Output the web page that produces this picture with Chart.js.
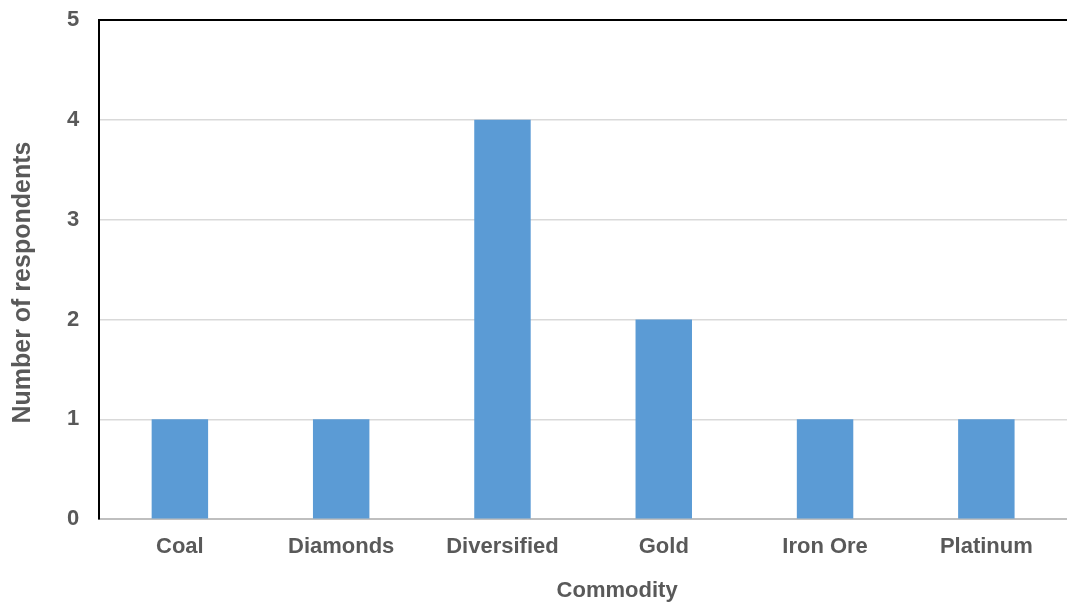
<!DOCTYPE html>
<html>
<head>
<meta charset="utf-8">
<script src="https://cdn.jsdelivr.net/npm/chart.js@4"></script>
<style>
  html, body { margin: 0; padding: 0; background: #fff; }
  #wrap { width: 1067px; height: 607px; }
</style>
</head>
<body>
<div id="wrap"><canvas id="chart"></canvas></div>
<script>
// data
const commodities = ['Coal', 'Diamonds', 'Diversified', 'Gold', 'Iron Ore', 'Platinum'];
const respondents = [1, 1, 4, 2, 1, 1];
const yMin = 0;
const yMax = 5;
const xTitle = 'Commodity';
const yTitle = 'Number of respondents';

const textGrey = '#595959';

// the axis titles in the original sit a bit off centre, so draw them ourselves
// (the built-in titles stay on, transparent, just to reserve the space)
const offsetTitles = {
    id: 'offsetTitles',
    afterDraw(chart) {
        const { ctx, chartArea, scales } = chart;
        const midX = (chartArea.left + chartArea.right) / 2;
        const midY = (chartArea.top + chartArea.bottom) / 2;
        ctx.save();
        ctx.fillStyle = textGrey;
        ctx.textAlign = 'center';
        ctx.textBaseline = 'middle';
        ctx.font = 'bold 22px "Liberation Sans"';
        ctx.fillText(xTitle, midX + 34, scales.x.bottom - 16);
        ctx.translate(scales.y.left + 19, midY + 13);
        ctx.rotate(-Math.PI / 2);
        ctx.font = 'bold 25px "Liberation Sans"';
        ctx.fillText(yTitle, 0, 0);
        ctx.restore();
    }
};

const ctx = document.getElementById('chart').getContext('2d');
const chart = new Chart(ctx, {
    type: 'bar',
    data: {
        labels: commodities,
        datasets: [{
            data: respondents,
            backgroundColor: '#5b9bd5',
            categoryPercentage: 1,
            barPercentage: 0.35
        }]
    },
    plugins: [offsetTitles],
    options: {
        responsive: true,
        maintainAspectRatio: false,
        animation: false,
        layout: { padding: { top: 20, left: 4, right: 0, bottom: 0 } },
        plugins: {
            legend: { display: false },
            tooltip: { enabled: false }
        },
        scales: {
            x: {
                grid: { display: false, drawTicks: false },
                border: { color: '#bfbfbf', width: 2 },
                ticks: {
                    color: textGrey,
                    padding: 15,
                    font: { family: 'Liberation Sans', size: 22, weight: 'bold' }
                },
                title: {
                    display: true,
                    text: xTitle,
                    color: 'rgba(0,0,0,0)',
                    padding: { top: 2, bottom: 3 },
                    font: { family: 'Liberation Sans', size: 22, weight: 'bold' }
                }
            },
            y: {
                min: yMin,
                max: yMax,
                // let the top label hang over the padding instead of pushing the plot down
                afterFit: (scale) => { scale.paddingTop = 0; },
                grid: {
                    drawTicks: false,
                    color: (c) => c.tick && c.tick.value === yMax ? '#000000' : '#d9d9d9',
                    lineWidth: (c) => c.tick && c.tick.value === yMax ? 2 : 1.5
                },
                border: { color: '#000000', width: 2 },
                ticks: {
                    stepSize: 1,
                    color: textGrey,
                    padding: 20,
                    font: { family: 'Liberation Sans', size: 22, weight: 'bold' }
                },
                title: {
                    display: true,
                    text: yTitle,
                    color: 'rgba(0,0,0,0)',
                    padding: { top: 4, bottom: 9 },
                    font: { family: 'Liberation Sans', size: 25, weight: 'bold' }
                }
            }
        }
    }
});
</script>
</body>
</html>
